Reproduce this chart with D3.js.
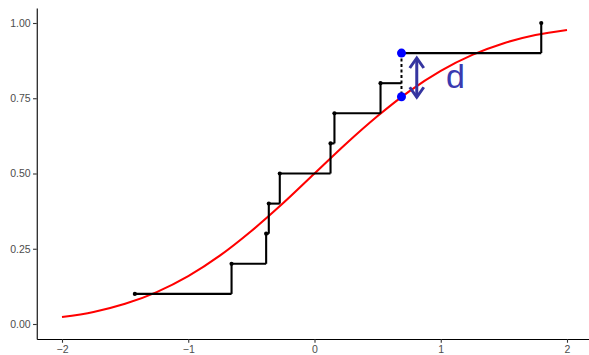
<!DOCTYPE html>
<html>
<head>
<meta charset="utf-8">
<script src="https://cdn.jsdelivr.net/npm/d3@7"></script>
<style>
  html, body { margin: 0; padding: 0; background: #fff; }
  svg { display: block; }
  text { font-family: "Liberation Sans", Arial, sans-serif; }
</style>
</head>
<body>
<svg id="chart" width="589" height="355"></svg>
<script>
// ---- data ----
const sampleX = [-1.423, -0.657, -0.383, -0.362, -0.275, 0.127, 0.158, 0.523, 0.689, 1.796];
const ecdfY   = [0.1, 0.2, 0.3, 0.4, 0.5, 0.6, 0.7, 0.8, 0.9, 1.0];
const curveX  = [-2, -1.75, -1.5, -1.25, -1, -0.75, -0.5, -0.25, 0, 0.25, 0.5, 0.75, 1, 1.25, 1.5, 1.75, 2];
const curveY  = [0.023, 0.040, 0.067, 0.106, 0.159, 0.227, 0.309, 0.401, 0.5, 0.599, 0.691, 0.773, 0.841, 0.894, 0.933, 0.960, 0.977];
const dX = 0.689, dTop = 0.9, dBottom = 0.755;
const arrowX = 0.81, arrowTop = 0.887, arrowBottom = 0.75;
const labelText = "d", labelX = 1.117, labelY = 0.784;
const xTicks = [-2, -1, 0, 1, 2];
const yTicks = [0, 0.25, 0.5, 0.75, 1];

const svg = d3.select("#chart");
const x = d3.scaleLinear().domain([-2.2, 2.2]).range([36.75, 592.25]);
const y = d3.scaleLinear().domain([-0.05, 1.05]).range([339.05, 7.95]);

// axes
const xAxis = d3.axisBottom(x).tickValues(xTicks).tickSize(3.7).tickSizeOuter(0).tickPadding(2.5).tickFormat(d3.format("d"));
const yAxis = d3.axisLeft(y).tickValues(yTicks).tickSize(3.7).tickSizeOuter(0).tickPadding(2.5).tickFormat(d3.format(".2f"));
const gx = svg.append("g").attr("transform", `translate(0,${y(-0.05)})`).call(xAxis);
const gy = svg.append("g").attr("transform", `translate(${x(-2.2)},0)`).call(yAxis);
[gx, gy].forEach(g => {
  g.attr("font-size", null).attr("font-family", null);
  g.select(".domain").attr("stroke", "#000").attr("stroke-width", 1.1);
  g.selectAll(".tick line").attr("stroke", "#333").attr("stroke-width", 1.1);
  g.selectAll(".tick text").attr("fill", "#4d4d4d").attr("font-size", "10.5px")
   .attr("font-family", "'Liberation Sans', Arial, sans-serif");
});

// normal CDF curve
const line = d3.line().x((d, i) => x(curveX[i])).y((d, i) => y(curveY[i])).curve(d3.curveMonotoneX);
svg.append("path").datum(curveY).attr("d", line)
  .attr("fill", "none").attr("stroke", "#ff0000").attr("stroke-width", 2.1);

// ECDF steps
const g = svg.append("g");
for (let i = 0; i < sampleX.length - 1; i++) {
  g.append("line")
    .attr("x1", x(sampleX[i])).attr("x2", x(sampleX[i + 1]))
    .attr("y1", y(ecdfY[i])).attr("y2", y(ecdfY[i]))
    .attr("stroke", "#000").attr("stroke-width", 2.1);
  if (sampleX[i + 1] !== dX) {
    g.append("line")
      .attr("x1", x(sampleX[i + 1])).attr("x2", x(sampleX[i + 1]))
      .attr("y1", y(ecdfY[i])).attr("y2", y(ecdfY[i + 1]))
      .attr("stroke", "#000").attr("stroke-width", 2.1);
  }
}
g.selectAll("circle.pt").data(sampleX).join("circle").attr("class", "pt")
  .attr("cx", d => x(d)).attr("cy", (d, i) => y(ecdfY[i])).attr("r", 2.1).attr("fill", "#000");

// dashed distance segment
svg.append("line")
  .attr("x1", x(dX)).attr("x2", x(dX)).attr("y1", y(dTop)).attr("y2", y(dBottom))
  .attr("stroke", "#000").attr("stroke-width", 2).attr("stroke-dasharray", "3,2.5");

// blue points
svg.selectAll("circle.blue").data([dTop, dBottom]).join("circle").attr("class", "blue")
  .attr("cx", x(dX)).attr("cy", d => y(d)).attr("r", 4.5).attr("fill", "#0000ff");

// double arrow
const ac = "#3535a0";
const ax = x(arrowX), ay1 = y(arrowTop), ay2 = y(arrowBottom);
svg.append("line").attr("x1", ax).attr("x2", ax).attr("y1", ay1 + 1).attr("y2", ay2 - 1)
  .attr("stroke", ac).attr("stroke-width", 3);
svg.append("path").attr("d", `M${ax - 7},${ay1 + 11} L${ax},${ay1 + 1} L${ax + 7},${ay1 + 11}`)
  .attr("fill", "none").attr("stroke", ac).attr("stroke-width", 3).attr("stroke-linejoin", "miter");
svg.append("path").attr("d", `M${ax - 7},${ay2 - 11} L${ax},${ay2 - 1} L${ax + 7},${ay2 - 11}`)
  .attr("fill", "none").attr("stroke", ac).attr("stroke-width", 3).attr("stroke-linejoin", "miter");

// label
svg.append("text").attr("x", x(labelX)).attr("y", y(labelY))
  .attr("text-anchor", "middle").attr("fill", "#3a3ab0")
  .attr("font-size", "34px").text(labelText);
</script>
</body>
</html>
